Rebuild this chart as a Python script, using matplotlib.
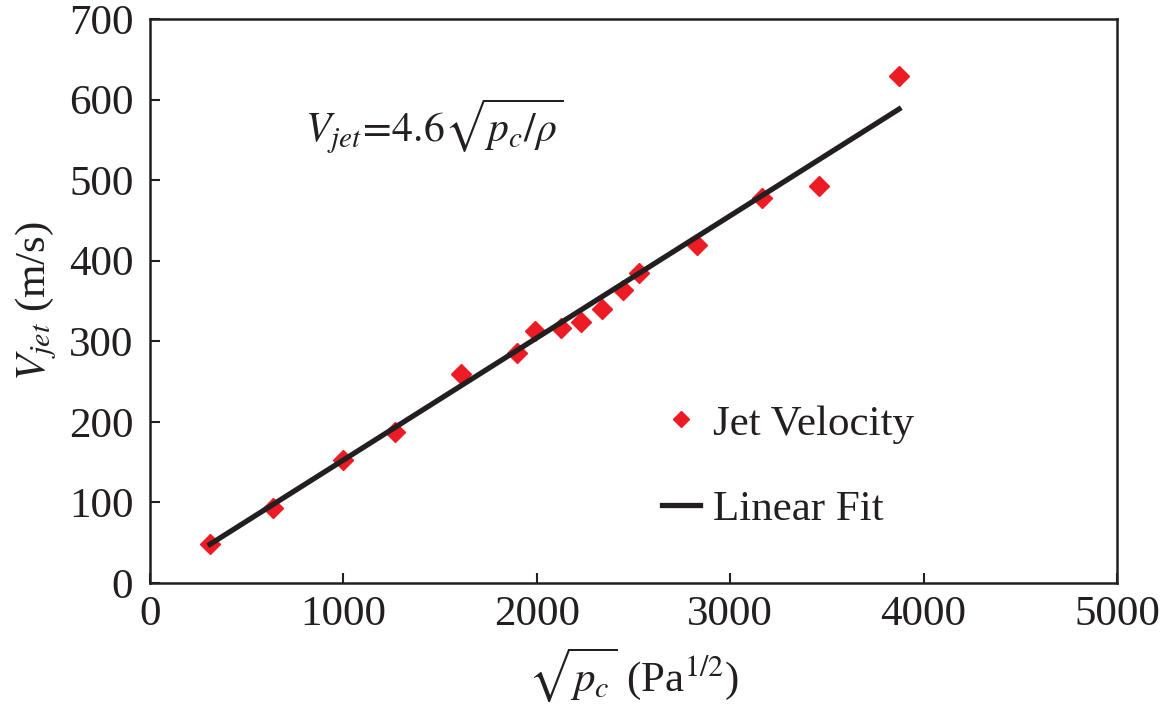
import matplotlib
matplotlib.use('Agg')
import matplotlib.pyplot as plt
import numpy as np

plt.rcParams['font.family'] = 'Liberation Serif'
plt.rcParams['mathtext.fontset'] = 'stix'

# measured jet velocity
sqrt_pc = [310, 636, 998, 1267, 1608, 1898, 1991, 2125, 2229, 2337,
           2446, 2529, 2828, 3164, 3459, 3873]
v_jet = [48, 93, 153, 187, 259, 285, 313, 316, 324, 340,
         364, 385, 419, 478, 493, 629]

# linear fit
fit_slope = 0.1516
fit_intercept = 1.0
fit_x = np.array([310, 3873])
fit_y = fit_slope * fit_x + fit_intercept

fig = plt.figure(figsize=(11.64, 7.08), dpi=100)
ax = fig.add_axes([0.1289, 0.1766, 0.8307, 0.7966])

ax.plot(sqrt_pc, v_jet, 'D', color='#ED1C24', markersize=10.5, label='Jet Velocity', zorder=2)
ax.plot(fit_x, fit_y, '-', color='#231F20', linewidth=3.8, label='Linear Fit', zorder=3)

ax.set_xlim(0, 5000)
ax.set_ylim(0, 700)
ax.set_xticks([0, 1000, 2000, 3000, 4000, 5000])
ax.set_yticks(range(0, 701, 100))
ax.tick_params(direction='in', length=7, width=1.5, labelsize=31, colors='#231F20')
ax.tick_params(axis='x', pad=9)
ax.tick_params(axis='y', pad=12)
for s in ax.spines.values():
    s.set_linewidth(1.8)
    s.set_color('#231F20')

ax.set_xlabel(r'$\sqrt{p_c}$ (Pa$^{1/2}$)', fontsize=31, color='#231F20', labelpad=8)
ax.set_ylabel(r'$V_{jet}$ (m/s)', fontsize=31, color='#231F20', labelpad=7)

ax.text(800, 568, r'$V_{jet}\!=\!\mathit{4.6}\sqrt{p_c/\rho}$', fontsize=30,
        color='#231F20', ha='left', va='center')

leg = ax.legend(loc='center left', bbox_to_anchor=(0.529, 0.206), frameon=False,
                fontsize=31, labelspacing=1.08, handlelength=0.9, handletextpad=0.3,
                borderaxespad=0, borderpad=0, markerscale=0.75)
for t in leg.get_texts():
    t.set_color('#231F20')

fig.savefig('out.png', dpi=100)
